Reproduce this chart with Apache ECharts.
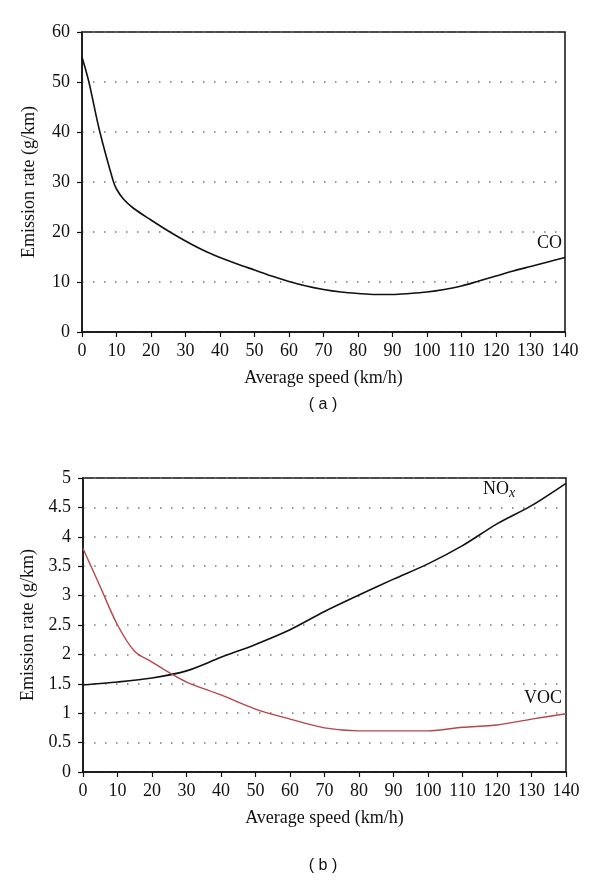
<!DOCTYPE html>
<html><head><meta charset="utf-8">
<script src="https://cdn.jsdelivr.net/npm/echarts@6/dist/echarts.min.js"></script>
<style>html,body{margin:0;padding:0;background:#fff}#c{width:600px;height:885px}</style>
</head><body><div id="c"></div>
<script>
// Panel (a): CO
const coSpeeds = [0,2,5,9,10,12,15,20,25,30,35,40,45,50,55,60,65,70,75,80,85,90,95,100,105,110,115,120,125,130,135,140];
const coValues = [55,50,40.5,30.3,28.6,26.6,24.7,22.4,20.2,18.2,16.4,14.9,13.6,12.4,11.2,10.1,9.2,8.5,8.0,7.7,7.5,7.5,7.7,8.0,8.5,9.2,10.2,11.2,12.2,13.1,14.0,14.9];
// Panel (b): NOx and VOC
const noxSpeeds = [0,10,20,30,40,50,60,70,80,90,100,110,120,130,140];
const noxValues = [1.48,1.53,1.60,1.72,1.95,2.17,2.42,2.73,3.01,3.28,3.54,3.85,4.22,4.53,4.91];
const vocSpeeds = [0,5,10,15,20,25,30,40,50,60,70,80,90,100,110,120,130,140];
const vocValues = [3.80,3.15,2.50,2.05,1.87,1.69,1.53,1.31,1.07,0.90,0.75,0.70,0.70,0.70,0.76,0.80,0.90,0.99];
const xTicks = [0,10,20,30,40,50,60,70,80,90,100,110,120,130,140];
const yTicksA = [0,10,20,30,40,50,60];
const yTicksB = [0,0.5,1,1.5,2,2.5,3,3.5,4,4.5,5];

const pair = (xs, ys) => xs.map((x, i) => [x, ys[i]]);
const SERIF = '"Liberation Serif", "DejaVu Serif", serif';
const SANS = '"Liberation Sans", Arial, sans-serif';
const FS = 18;

function xAxis(gi) {
  return {
    type: 'value', gridIndex: gi, min: xTicks[0], max: xTicks[xTicks.length-1], interval: 10,
    name: 'Average speed (km/h)', nameLocation: 'middle', nameGap: 37,
    nameTextStyle: {fontFamily: SERIF, fontSize: FS, color: '#111'},
    axisLine: {show: true, lineStyle: {color: '#111', width: 1.5}},
    axisTick: {show: true, length: 5, lineStyle: {color: '#111', width: 1.2}},
    axisLabel: {fontFamily: SERIF, fontSize: FS, color: '#111', margin: 10},
    splitLine: {show: false}
  };
}
function yAxis(gi, ticks, interval) {
  return {
    type: 'value', gridIndex: gi, min: ticks[0], max: ticks[ticks.length-1], interval: interval,
    name: 'Emission rate (g/km)', nameLocation: 'middle', nameGap: 44,
    nameTextStyle: {fontFamily: SERIF, fontSize: FS, color: '#111'},
    axisLine: {show: true, lineStyle: {color: '#111', width: 1.5}},
    axisTick: {show: true, length: 5, lineStyle: {color: '#111', width: 1.2}},
    axisLabel: {fontFamily: SERIF, fontSize: FS, color: '#111', margin: 12},
    splitLine: {show: true, lineStyle: {color: '#777', type: [1.5, 9.5], width: 1.5}}
  };
}

const chart = echarts.init(document.getElementById('c'), null, {renderer: 'canvas'});
chart.setOption({
  animation: false,
  backgroundColor: '#fff',
  grid: [
    {left: 82, top: 32, width: 483, height: 300, show: true, borderColor: '#111', borderWidth: 1.5, backgroundColor: 'transparent'},
    {left: 83, top: 478, width: 483, height: 294, show: true, borderColor: '#111', borderWidth: 1.5, backgroundColor: 'transparent'}
  ],
  xAxis: [xAxis(0), xAxis(1)],
  yAxis: [yAxis(0, yTicksA, 10), yAxis(1, yTicksB, 0.5)],
  series: [
    {name: 'CO', type: 'line', xAxisIndex: 0, yAxisIndex: 0, data: pair(coSpeeds, coValues),
     smooth: 0.3, showSymbol: false, lineStyle: {color: '#111', width: 1.6}},
    {name: 'NOx', type: 'line', xAxisIndex: 1, yAxisIndex: 1, data: pair(noxSpeeds, noxValues),
     smooth: 0.3, showSymbol: false, lineStyle: {color: '#111', width: 1.6}},
    {name: 'VOC', type: 'line', xAxisIndex: 1, yAxisIndex: 1, data: pair(vocSpeeds, vocValues),
     smooth: 0.3, showSymbol: false, lineStyle: {color: '#b8454a', width: 1.4}}
  ],
  graphic: [
    {type: 'text', right: 38, top: 234, style: {text: 'CO', font: FS + 'px ' + SERIF, fill: '#111'}},
    {type: 'text', left: 483, top: 480, style: {
      text: '{n|NO}{s|x}', fill: '#111',
      rich: {n: {fontFamily: SERIF, fontSize: FS, color: '#111'},
             s: {fontFamily: SERIF, fontSize: 14, fontStyle: 'italic', color: '#111', padding: [9, 0, 0, 0]}}
    }},
    {type: 'text', right: 38, top: 689, style: {text: 'VOC', font: FS + 'px ' + SERIF, fill: '#111'}},
    {type: 'text', x: 323, y: 405, style: {text: '( a )', font: '16px ' + SANS, fill: '#111', textAlign: 'center', textVerticalAlign: 'middle'}},
    {type: 'text', x: 323, y: 866, style: {text: '( b )', font: '16px ' + SANS, fill: '#111', textAlign: 'center', textVerticalAlign: 'middle'}}
  ]
});
</script>
</body></html>
